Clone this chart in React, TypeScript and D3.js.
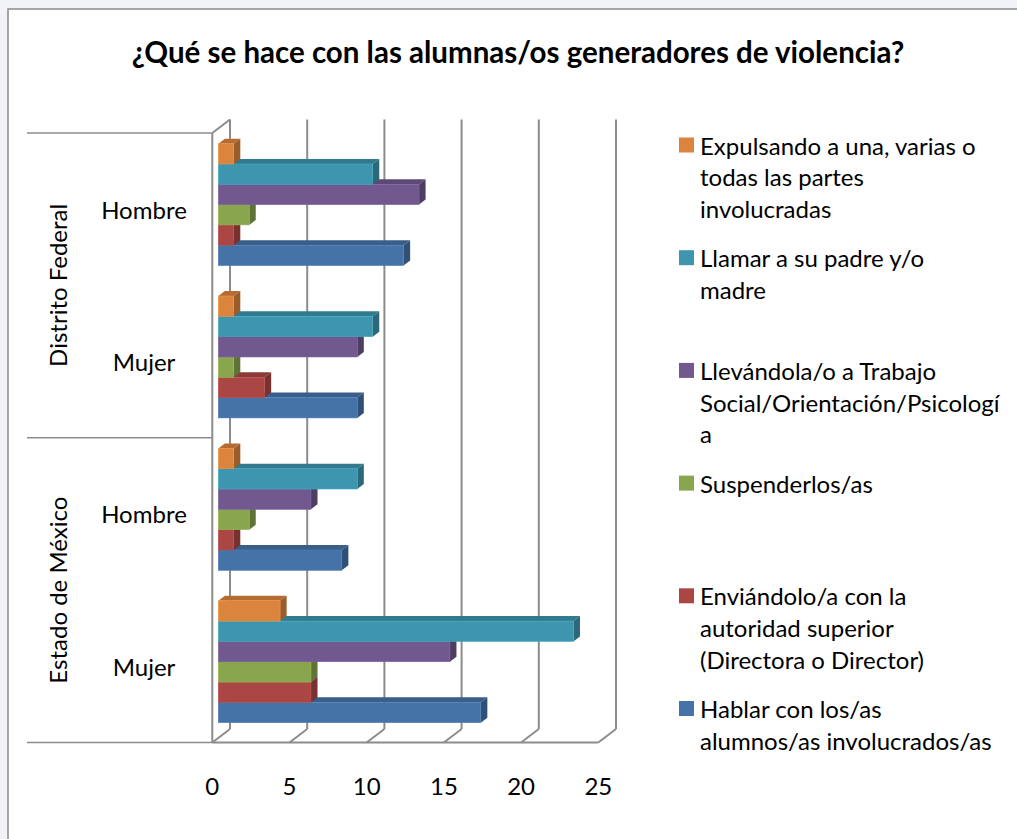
import React from "react";
import * as d3 from "d3";

// series top-to-bottom inside each group (same as legend order)
const seriesNames = [
  ["Expulsando a una, varias o", "todas las partes", "involucradas"],
  ["Llamar a su padre y/o", "madre"],
  ["Llevándola/o a Trabajo", "Social/Orientación/Psicologí", "a"],
  ["Suspenderlos/as"],
  ["Enviándolo/a con la", "autoridad superior", "(Directora o Director)"],
  ["Hablar con los/as", "alumnos/as involucrados/as"],
];
const seriesColors = ["#DB843D", "#3D96AE", "#71588F", "#89A54E", "#AA4643", "#4572A7"];

// categories top-to-bottom
const categories = ["DF-Hombre", "DF-Mujer", "EM-Hombre", "EM-Mujer"];
const categoryLabels = ["Hombre", "Mujer", "Hombre", "Mujer"];
const groupLabels = ["Distrito Federal", "Estado de México"];

// values per series, in category order
const expulsando = [1, 1, 1, 4];
const llamar = [10, 10, 9, 23];
const llevandola = [13, 9, 6, 15];
const suspender = [2, 1, 2, 6];
const enviandolo = [1, 3, 1, 6];
const hablar = [12, 9, 8, 17];
const seriesValues = [expulsando, llamar, llevandola, suspender, enviandolo, hablar];

const xTicks = [0, 5, 10, 15, 20, 25];

const W = 1017;
const H = 839;
const FONT = "Lato, 'Open Sans', sans-serif";

// plot geometry (front plane)
const x0 = 212.3;
const xMax = 598.3;
const yTop = 133;
const yBot = 742.5;
const depth = { dx: 17.7, dy: -13.5 };
const barFront = 0.34; // fraction of depth where bar front sits
const barDepth = 0.37;

export default function App() {
  const x = d3.scaleLinear().domain([0, 25]).range([0, xMax - x0]);
  const yCat = d3.scaleBand<string>().domain(categories).range([yTop, yBot]).paddingInner(0.2).paddingOuter(0.1);
  const ySer = d3.scaleBand<number>().domain(d3.range(seriesValues.length)).range([0, yCat.bandwidth()]);
  const yBand = d3.scaleBand<string>().domain(categories).range([yTop, yBot]);

  const bfx = x0 + depth.dx * barFront;
  const bfy = depth.dy * barFront;
  const bdx = depth.dx * barDepth;
  const bdy = depth.dy * barDepth;
  const backX = x0 + depth.dx;
  const backTop = yTop + depth.dy;
  const backBot = yBot + depth.dy;

  // bars drawn bottom to top so upper bars cover the top faces below
  const bars: JSX.Element[] = [];
  [...categories].reverse().forEach((cat) => {
    const ci = categories.indexOf(cat);
    for (let si = seriesValues.length - 1; si >= 0; si--) {
      const v = seriesValues[si][ci];
      const bx = bfx;
      const by = (yCat(cat) ?? 0) + ySer(si)! + bfy;
      const bw = x(v);
      const bh = ySer.bandwidth();
      const c = d3.color(seriesColors[si])!;
      const top = `${bx},${by} ${bx + bdx},${by + bdy} ${bx + bw + bdx},${by + bdy} ${bx + bw},${by}`;
      const side = `${bx + bw},${by} ${bx + bw + bdx},${by + bdy} ${bx + bw + bdx},${by + bh + bdy} ${bx + bw},${by + bh}`;
      bars.push(
        <g key={`${cat}-${si}`}>
          <polygon points={top} fill={c.darker(0.55).toString()} />
          <polygon points={side} fill={c.darker(1).toString()} />
          <rect x={bx} y={by} width={bw} height={bh} fill={seriesColors[si]} stroke={c.brighter(0.3).toString()} strokeWidth={0.6} />
        </g>
      );
    }
  });

  const gridColor = "#8c8c8c";

  return (
    <svg width={W} height={H} style={{ position: "absolute", left: 0, top: 0 }} fontFamily={FONT}>
      <rect x={0} y={0} width={W} height={H} fill="#f1f3f7" />
      <rect x={8} y={9} width={W + 20} height={H + 20} fill="#fff" stroke="#8a8a8a" strokeWidth={1.5} />

      <text x={518} y={51} textAnchor="middle" dominantBaseline="central" fontSize={29.5} fontWeight="bold" fill="#000">
        ¿Qué se hace con las alumnas/os generadores de violencia?
      </text>

      {/* back wall gridlines */}
      {xTicks.map((t) => (
        <line key={`g${t}`} x1={backX + x(t)} x2={backX + x(t)} y1={backTop} y2={backBot} stroke={gridColor} strokeWidth={2} />
      ))}
      {/* floor */}
      {xTicks.map((t) => (
        <line key={`f${t}`} x1={x0 + x(t)} x2={backX + x(t)} y1={yBot} y2={backBot} stroke={gridColor} strokeWidth={2} />
      ))}
      <line x1={x0} x2={xMax} y1={yBot} y2={yBot} stroke={gridColor} strokeWidth={2} />
      {/* left wall */}
      <line x1={x0} x2={x0} y1={yTop} y2={yBot} stroke={gridColor} strokeWidth={2} />
      <line x1={x0} x2={backX} y1={yTop} y2={backTop} stroke={gridColor} strokeWidth={2} />

      {/* category axis lines */}
      {[yTop, (yTop + yBot) / 2, yBot].map((yy, i) => (
        <line key={`c${i}`} x1={27} x2={x0} y1={yy} y2={yy} stroke={gridColor} strokeWidth={1.5} />
      ))}

      {bars}

      {/* category labels */}
      {categories.map((cat, i) => (
        <text key={cat} x={144} y={(yBand(cat) ?? 0) + yBand.bandwidth() / 2} textAnchor="middle" dominantBaseline="central" fontSize={24} fill="#000">
          {categoryLabels[i]}
        </text>
      ))}
      {groupLabels.map((g, i) => {
        const cy = yTop + (yBot - yTop) * (i * 0.5 + 0.25);
        return (
          <text key={g} transform={`translate(57,${cy}) rotate(-90)`} textAnchor="middle" dominantBaseline="central" fontSize={24} fill="#000">
            {g}
          </text>
        );
      })}

      {/* value axis labels */}
      {xTicks.map((t) => (
        <text key={`t${t}`} x={x0 + x(t)} y={785} textAnchor="middle" dominantBaseline="central" fontSize={24} fill="#000">
          {t}
        </text>
      ))}

      {/* legend */}
      {seriesNames.map((lines, i) => {
        const ly = 145 + i * 112.7;
        return (
          <g key={`l${i}`}>
            <rect x={679} y={ly - 7.5} width={15} height={15} fill={seriesColors[i]} />
            {lines.map((ln, j) => (
              <text key={j} x={700} y={ly + j * 31.7} dominantBaseline="central" fontSize={24} fill="#000">
                {ln}
              </text>
            ))}
          </g>
        );
      })}
    </svg>
  );
}
